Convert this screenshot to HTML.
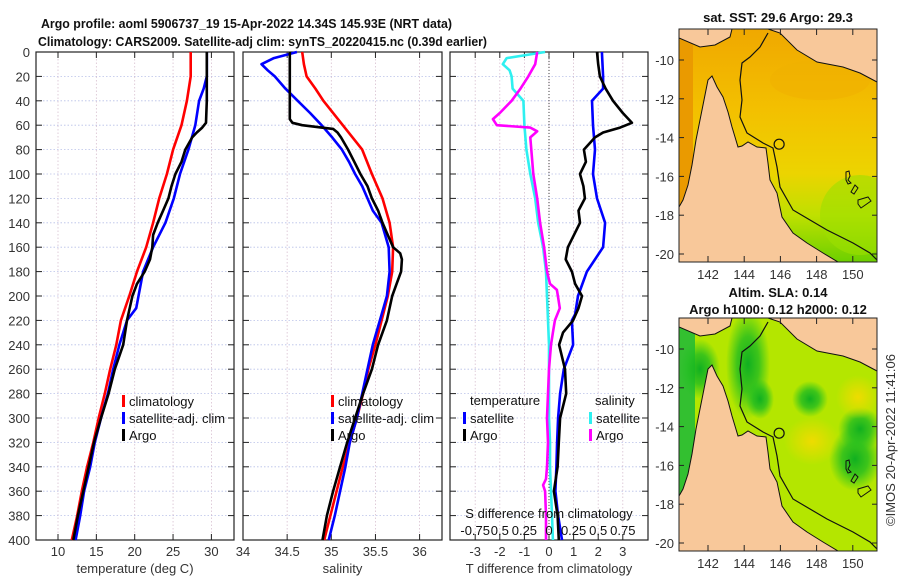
<!DOCTYPE html>
<html><head><meta charset="utf-8"><style>
body{margin:0;background:#fff;}
svg{display:block;font-family:"Liberation Sans","DejaVu Sans",sans-serif;}
.tk{font-size:13px;fill:#333;}
.tt{font-size:13px;font-weight:bold;fill:#111;}
</style></head><body>
<svg id="chart" width="900" height="580" viewBox="0 0 900 580" xmlns="http://www.w3.org/2000/svg">
<defs>
<linearGradient id="sstg" x1="0" y1="0" x2="0" y2="1">
<stop offset="0" stop-color="#f0a800"/><stop offset="0.35" stop-color="#f3c000"/><stop offset="0.62" stop-color="#ecd400"/><stop offset="0.8" stop-color="#bfe000"/><stop offset="1" stop-color="#6cd000"/></linearGradient>
<radialGradient id="gblob"><stop offset="0" stop-color="#10b020"/><stop offset="0.5" stop-color="#20bc20" stop-opacity="0.8"/><stop offset="1" stop-color="#22c422" stop-opacity="0"/></radialGradient>
<radialGradient id="yblob"><stop offset="0" stop-color="#eedc00"/><stop offset="1" stop-color="#eedc00" stop-opacity="0"/></radialGradient>
<clipPath id="mapclip"><rect x="679" y="29" width="198" height="233"/></clipPath>
</defs>
<g id="titles">
<text class="tt" x="41" y="28" textLength="411" lengthAdjust="spacingAndGlyphs">Argo profile: aoml 5906737_19 15-Apr-2022 14.34S 145.93E (NRT data)</text>
<text class="tt" x="38" y="46" textLength="449" lengthAdjust="spacingAndGlyphs">Climatology: CARS2009. Satellite-adj clim: synTS_20220415.nc (0.39d earlier)</text>
<text class="tt" x="778" y="22" text-anchor="middle">sat. SST: 29.6 Argo: 29.3</text>
<text class="tt" x="778" y="297" text-anchor="middle">Altim. SLA: 0.14</text>
<text class="tt" x="778" y="314" text-anchor="middle">Argo h1000: 0.12 h2000: 0.12</text>
<text class="tk" transform="translate(895,440) rotate(-90)" text-anchor="middle" fill="#222">©IMOS 20-Apr-2022 11:41:06</text>
</g>
<g id="panels"></g>
<g id="maps"></g>
</svg>
<script>
// ---- data ----
const depthTicks=[0,20,40,60,80,100,120,140,160,180,200,220,240,260,280,300,320,340,360,380,400];
const tempTicks=[10,15,20,25,30];
const salTicks=[34,34.5,35,35.5,36];
const tdiffTicks=[-3,-2,-1,0,1,2,3];
const sdiffTicks=[-0.75,-0.5,-0.25,0,0.25,0.5,0.75];
const sdiffLabels=["-0.75","0.5","0.25","0","0.25","0.5","0.75"];

const tClimDepth=[0,20,40,60,80,100,120,140,160,180,200,220,240,260,280,300,320,340,360,380,400];
const tClim=[27.3,27.3,26.8,26.1,25.0,24.2,23.2,22.4,21.5,20.3,19.3,18.2,17.6,16.8,16.1,15.3,14.6,13.8,13.1,12.5,11.8];
const tSatDepth=[0,20,30,40,60,80,100,120,140,160,180,200,210,220,240,260,280,300,320,340,360,380,400];
const tSat=[29.4,29.4,29.0,28.4,27.9,27.0,25.9,25.1,24.0,22.4,21.1,20.5,20.2,19.0,18.0,17.2,16.5,15.6,14.8,14.2,13.4,12.9,12.3];
const tArgoDepth=[0,20,40,58,62,66,70,80,90,100,110,120,130,140,150,160,170,180,190,200,220,240,260,280,300,320,340,360,380,400];
const tArgo=[29.4,29.4,29.4,29.3,28.8,28.1,27.5,26.6,26.1,25.3,24.8,24.4,23.7,23.0,22.4,22.3,22.0,21.3,20.3,19.7,19.0,18.5,17.4,16.6,15.6,14.7,14.0,13.3,12.6,12.0];

const sClimDepth=[0,10,20,30,40,60,80,100,120,140,160,180,200,220,240,260,280,300,320,340,360,380,400];
const sClim=[34.67,34.69,34.72,34.82,34.91,35.13,35.35,35.46,35.58,35.66,35.70,35.69,35.64,35.57,35.50,35.42,35.36,35.29,35.21,35.13,35.06,34.99,34.92];
const sSatDepth=[0,5,10,15,20,30,40,50,60,70,80,90,100,110,120,130,140,160,180,200,220,240,260,280,300,320,340,360,380,400];
const sSat=[34.61,34.35,34.21,34.28,34.36,34.48,34.62,34.76,34.89,35.01,35.12,35.20,35.27,35.35,35.41,35.47,35.57,35.65,35.66,35.63,35.55,35.47,35.41,35.35,35.29,35.21,35.16,35.10,35.04,34.97];
const sArgoDepth=[0,20,40,55,58,60,62,63,66,70,80,90,100,110,120,130,140,150,160,165,170,180,190,200,220,240,260,280,300,320,340,360,380,400];
const sArgo=[34.53,34.53,34.53,34.53,34.56,34.67,34.89,35.02,35.07,35.11,35.19,35.26,35.33,35.41,35.46,35.53,35.58,35.64,35.70,35.78,35.80,35.79,35.74,35.69,35.63,35.53,35.46,35.36,35.27,35.18,35.10,35.02,34.95,34.90];

const dTSatDepth=[0,20,30,40,60,80,100,120,140,160,180,200,215,220,240,260,280,300,320,340,360,380,400];
const dTSat=[2.15,2.2,2.2,1.75,1.79,1.87,1.79,1.95,2.28,2.2,1.54,1.18,1.06,0.93,0.98,0.6,0.45,0.37,0.33,0.30,0.26,0.37,0.53];
const dTArgoDepth=[0,10,20,30,40,50,58,62,66,70,80,90,100,110,120,130,140,160,170,180,190,200,210,220,230,240,260,280,300,320,340,360,380,400];
const dTArgo=[1.95,2.0,2.07,2.3,2.6,3.0,3.37,2.89,2.2,1.87,1.42,1.5,1.26,1.4,1.46,1.2,1.26,0.77,0.68,0.93,1.06,1.34,1.2,0.98,0.57,0.41,0.65,0.70,0.45,0.40,0.35,0.20,0.35,0.40];
const dSSatDepth=[0,5,10,15,20,30,40,60,80,100,120,140,160,180,200,220,240,260,280,300,320,340,360,380,400];
const dSSat=[-0.04,-0.43,-0.47,-0.40,-0.38,-0.37,-0.26,-0.25,-0.23,-0.19,-0.14,-0.11,-0.06,-0.03,-0.02,-0.01,0,0,0,0,0.01,0.01,0.02,0.03,0.04];
const dSArgoDepth=[0,10,20,30,40,50,55,60,62,65,70,80,100,120,140,160,180,190,195,200,210,220,230,240,260,280,300,320,340,350,355,360,380,400];
const dSArgo=[-0.12,-0.14,-0.21,-0.29,-0.38,-0.50,-0.57,-0.53,-0.19,-0.12,-0.19,-0.18,-0.16,-0.12,-0.09,-0.05,-0.02,0.01,0.08,0.09,0.11,0.06,0.04,0.02,0.0,-0.01,-0.02,-0.01,-0.02,-0.03,-0.06,-0.04,-0.03,-0.03];

// ---- axes ----
const Y0=52,Y1=540;
const yD=d=>Y0+d*(Y1-Y0)/400;
const xT=t=>58+(t-10)*7.67;
const xS=s=>243+(s-34)*88.3;
const xDT=t=>549+t*24.6;
const xDS=s=>549+s*98.4;
const NS="http://www.w3.org/2000/svg";
function mk(tag,attrs,parent){const e=document.createElementNS(NS,tag);for(const k in attrs)e.setAttribute(k,attrs[k]);parent.appendChild(e);return e;}
const panels=document.getElementById('panels');

function panel(name,x0,x1,ticks,labels,xf,title,showY){
  const g=mk('g',{},panels);
  
  
  depthTicks.forEach(d=>{const l=mk('line',{x1:x0,x2:x1,y1:yD(d),y2:yD(d),stroke:'#b8c0e8','stroke-width':0.8,'stroke-dasharray':'1.5,2'},g);
    
    mk('line',{x1:x0,x2:x0+6,y1:yD(d),y2:yD(d),stroke:'#222'},g);mk('line',{x1:x1-6,x2:x1,y1:yD(d),y2:yD(d),stroke:'#222'},g);});
  ticks.forEach((t,i)=>{const x=xf(t);
    const l=mk('line',{x1:x,x2:x,y1:Y0,y2:Y1,stroke:'#d8c0d0','stroke-width':0.8,'stroke-dasharray':'1.5,2'},g);
    
    mk('line',{x1:x,x2:x,y1:Y0,y2:Y0+6,stroke:'#222'},g);mk('line',{x1:x,x2:x,y1:Y1-6,y2:Y1,stroke:'#222'},g);
    const tx=mk('text',{x:x,y:556,'text-anchor':'middle',class:'tk'},g);tx.textContent=labels[i];
    });
  const r=mk('rect',{x:x0,y:Y0,width:x1-x0,height:Y1-Y0,fill:'none',stroke:'#222','stroke-width':1.2},g);
  
  const tt=mk('text',{x:(x0+x1)/2,y:573,'text-anchor':'middle',class:'tk'},g);tt.textContent=title;
  
  if(showY)depthTicks.forEach(d=>{const t=mk('text',{x:30,y:yD(d)+5,'text-anchor':'end',class:'tk'},g);t.textContent=d;
    });
  return g;
}
function series(g,name,depths,vals,xf,color,w){
  const pts=depths.map((d,i)=>xf(vals[i]).toFixed(1)+','+yD(d).toFixed(1)).join(' ');
  const p=mk('polyline',{points:pts,fill:'none',stroke:color,'stroke-width':w||2.6,'stroke-linejoin':'round'},g);
  
  
}
function legend(g,x,y,items){
  items.forEach((it,i)=>{const yy=y+i*17;
    const m=mk('rect',{x:x,y:yy-10,width:3,height:12,fill:it[1]},g);
    
    const t=mk('text',{x:x+7,y:yy+1,class:'tk',fill:'#111'},g);t.textContent=it[0];t.style.fill='#111';
    });
}
const g1=panel('temperature-panel',36,234,tempTicks,tempTicks.map(String),xT,'temperature (deg C)',true);
series(g1,'temp-climatology-line',tClimDepth,tClim,xT,'#f00');
series(g1,'temp-satellite-line',tSatDepth,tSat,xT,'#00f');
series(g1,'temp-argo-line',tArgoDepth,tArgo,xT,'#000');
legend(g1,122,405,[['climatology','#f00'],['satellite-adj. clim','#00f'],['Argo','#000']]);

const g2=panel('salinity-panel',243,442,salTicks,salTicks.map(String),xS,'salinity',false);
series(g2,'sal-climatology-line',sClimDepth,sClim,xS,'#f00');
series(g2,'sal-satellite-line',sSatDepth,sSat,xS,'#00f');
series(g2,'sal-argo-line',sArgoDepth,sArgo,xS,'#000');
legend(g2,331,405,[['climatology','#f00'],['satellite-adj. clim','#00f'],['Argo','#000']]);

const g3=panel('difference-panel',450,648,tdiffTicks,tdiffTicks.map(String),xDT,'T difference from climatology',false);
const zl=mk('line',{x1:xDT(0),x2:xDT(0),y1:Y0,y2:Y1,stroke:'#444','stroke-dasharray':'1,2'},g3);

series(g3,'dS-satellite-line',dSSatDepth,dSSat,xDS,'#2ef0f0');
series(g3,'dS-argo-line',dSArgoDepth,dSArgo,xDS,'#f0f');
series(g3,'dT-satellite-line',dTSatDepth,dTSat,xDT,'#00f');
series(g3,'dT-argo-line',dTArgoDepth,dTArgo,xDT,'#000');
{const t=mk('text',{x:470,y:405,class:'tk'},g3);t.textContent='temperature';t.style.fill='#111';
 
 const s=mk('text',{x:595,y:405,class:'tk'},g3);s.textContent='salinity';s.style.fill='#111';
 }
legend(g3,463,422,[['satellite','#00f'],['Argo','#000']]);
legend(g3,589,422,[['satellite','#2ef0f0'],['Argo','#f0f']]);
{const t=mk('text',{x:549,y:518,'text-anchor':'middle',class:'tk'},g3);t.textContent='S difference from climatology';t.style.fill='#111';
 }
sdiffTicks.forEach((s,i)=>{const t=mk('text',{x:xDS(s),y:535,'text-anchor':'middle',class:'tk'},g3);t.textContent=sdiffLabels[i];t.style.fill='#111';
  });

// ---- maps ----
const maps=document.getElementById('maps');
const lonTicks=[142,144,146,148,150];const latTicks=[-10,-12,-14,-16,-18,-20];
const xLon=l=>708+(l-142)*18.1;const yLat=l=>60+(-10-l)*19.4;
const cape="679,207 683,200 688,185 692,165 696,140 700,120 704,100 708,80 712,76 717,87 723,97 728,112 732,127 735,137 738,147 742,146 748,142 757,147 766,148 768,163 770,180 777,193 782,217 793,233 807,243 823,253 838,262 679,262";
const png1="679,29 732,29 730,37 715,45 700,47 679,38";
const png2="768,29 877,29 877,82 860,73 843,67 817,62 797,50 780,33";
const reef="768,33 760,47 750,57 742,63 740,80 742,100 740,117 747,133 763,143 773,148 777,167 780,187 793,210 810,220 827,230 853,243 870,253 877,260";
function map(name,dy,sst){
  const g=mk('g',{transform:'translate(0,'+dy+')'},maps);
  
  const c=mk('g',{'clip-path':'url(#mapclip)'},g);
  if(sst){
    mk('rect',{x:679,y:29,width:198,height:233,fill:'url(#sstg)'},c);
    mk('rect',{x:679,y:29,width:14,height:180,fill:'#ea9a00'},c);
    mk('ellipse',{cx:820,cy:80,rx:50,ry:20,fill:'#f0b000',opacity:0.6},c);
    mk('ellipse',{cx:860,cy:215,rx:40,ry:40,fill:'#9ce000',opacity:0.6},c);
  }else{
    mk('rect',{x:679,y:29,width:198,height:233,fill:'#b4e600'},c);
    mk('rect',{x:679,y:29,width:16,height:180,fill:'#33c030'},c);
    [[748,75,22,55],[810,110,18,18],[855,170,26,32],[860,140,22,22],[700,80,20,30],[760,110,14,20]].forEach(b=>mk('ellipse',{cx:b[0],cy:b[1],rx:b[2],ry:b[3],fill:'url(#gblob)'},c));
    [[812,152,28,24],[858,108,22,22]].forEach(b=>mk('ellipse',{cx:b[0],cy:b[1],rx:b[2],ry:b[3],fill:'url(#yblob)'},c));
  }
  [cape,png1,png2].forEach(p=>{const l=mk('polygon',{points:p,fill:'#f8c89a',stroke:'#111','stroke-width':1},c);
    });
  const rf=mk('polyline',{points:reef,fill:'none',stroke:'#111','stroke-width':1.2},c);
  
  mk('path',{d:'M846,172 l3,-1 l1,5 l-2,4 l3,3 l-3,1 l-2,-4z M855,185 l3,3 l-4,6 l-3,-2z M858,200 l10,-3 l3,4 l-10,7 l-3,-4z',fill:'none',stroke:'#111','stroke-width':1},c);
  const ci=mk('circle',{cx:xLon(145.93),cy:yLat(-14.34),r:5,fill:'none',stroke:'#111','stroke-width':1.2},c);
  
  mk('rect',{x:679,y:29,width:198,height:233,fill:'none',stroke:'#222','stroke-width':1},g);
  lonTicks.forEach(l=>{const x=xLon(l);mk('line',{x1:x,x2:x,y1:262,y2:256,stroke:'#222'},g);mk('line',{x1:x,x2:x,y1:29,y2:35,stroke:'#222'},g);
    const t=mk('text',{x:x,y:279,'text-anchor':'middle',class:'tk'},g);t.textContent=l;
    });
  latTicks.forEach(l=>{const y=yLat(l);mk('line',{x1:679,x2:684,y1:y,y2:y,stroke:'#222'},g);mk('line',{x1:872,x2:877,y1:y,y2:y,stroke:'#222'},g);
    const t=mk('text',{x:674,y:y+5,'text-anchor':'end',class:'tk'},g);t.textContent=l;
    });
}
map('sst-map',0,true);
map('sla-map',289,false);
</script>
</body></html>
